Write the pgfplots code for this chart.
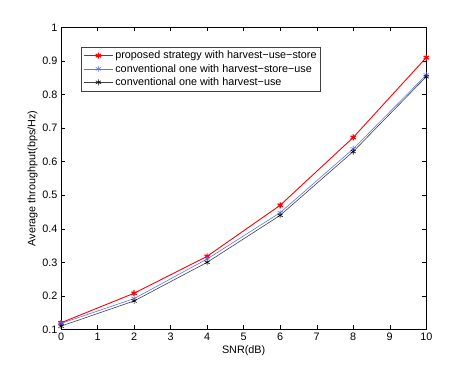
\documentclass[border=0pt]{standalone}
\usepackage{fontspec}
\setmainfont{Liberation Sans}
\usepackage{pgfplots}
\pgfplotsset{compat=1.18}
\usetikzlibrary{calc}
\definecolor{mblue}{rgb}{0.35,0.45,1}
\definecolor{mgray}{rgb}{0.25,0.25,0.25}
\begin{document}
\begin{tikzpicture}
\begin{axis}[
  name=ax,
  scale only axis,
  width=365pt, height=302pt,
  xmin=0, xmax=10, ymin=0.1, ymax=1,
  xtick={0,1,...,10},
  ytick={0.1,0.2,...,1.0},
  yticklabel style={/pgf/number format/fixed,/pgf/number format/precision=1},
  /pgf/number format/assume math mode=true,
  tick align=inside,
  major tick length=4pt,
  tick style={black, line width=0.4pt},
  axis line style={black, line width=0.6pt},
  ticklabel style={font=\fontsize{10.8}{12}\selectfont},
  xlabel={SNR(dB)},
  ylabel={Average throughput(bps/Hz)},
  label style={font=\fontsize{10.8}{12}\selectfont},
  xlabel style={yshift=2pt},
  ylabel style={yshift=-2pt},
  legend cell align=left,
  legend style={at={(0.055,0.936)}, anchor=north west, draw=mgray, line width=0.6pt,
    font=\fontsize{10.8}{13}\selectfont, inner sep=2pt, row sep=0pt},
  legend image code/.code={\draw[mark repeat=2,mark phase=2] plot coordinates {(0pt,0pt)(14.5pt,0pt)(29pt,0pt)};},
]
\addplot[red, line width=0.9pt, mark=asterisk, mark size=3pt, mark options={line width=1.2pt}] coordinates {
  (0,0.120) (2,0.208) (4,0.318) (6,0.470) (8,0.672) (10,0.910)
};
\addlegendentry{proposed strategy with harvest−use−store}
\addplot[mblue, line width=0.6pt, mark=asterisk, mark size=3pt] coordinates {
  (0,0.118) (2,0.192) (4,0.310) (6,0.448) (8,0.638) (10,0.858)
};
\addlegendentry{conventional one with harvest−store−use}
\addplot[mgray, line width=0.6pt, mark=asterisk, mark size=3pt, mark options={black}] coordinates {
  (0,0.110) (2,0.185) (4,0.300) (6,0.440) (8,0.630) (10,0.853)
};
\addlegendentry{conventional one with harvest−use}
\end{axis}
\path[use as bounding box] ($(ax.south west)+(-61pt,-41.7pt)$) rectangle ($(ax.north east)+(44.7pt,27.3pt)$);
\end{tikzpicture}
\end{document}
